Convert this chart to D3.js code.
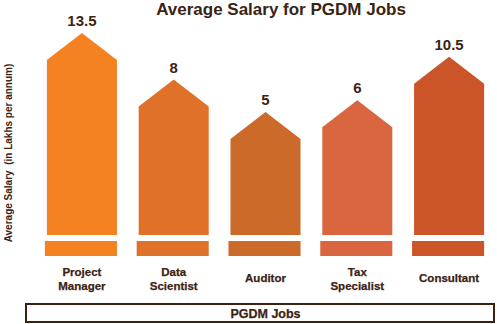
<!DOCTYPE html>
<html>
<head>
<meta charset="utf-8">
<script src="https://cdn.jsdelivr.net/npm/d3@7"></script>
<style>
  html, body { margin: 0; padding: 0; background: #ffffff; }
  svg { display: block; }
  text { font-family: "Liberation Sans", Arial, sans-serif; font-weight: bold; fill: #3b2314; }
</style>
</head>
<body>
<div id="chart"></div>
<script>
const categories = [["Project", "Manager"], ["Data", "Scientist"], ["Auditor"], ["Tax", "Specialist"], ["Consultant"]];
const salaries = [13.5, 8, 5, 6, 10.5];
const valueLabels = ["13.5", "8", "5", "6", "10.5"];
const colors = ["#f58220", "#e07128", "#cc6a2a", "#d9663f", "#cb5529"];
const title = "Average Salary for PGDM Jobs";
const yTitle = "Average Salary  (in Lakhs per annum)";
const xTitle = "PGDM Jobs";

const W = 497, H = 324;
const baseY = 235;
const svg = d3.select("#chart").append("svg").attr("width", W).attr("height", H);

const x = d3.scaleBand().domain(d3.range(categories.length)).range([36, 495])
  .paddingInner(0.237).paddingOuter(0.1185);
const h = d3.scaleSqrt().domain([0, 13.5]).range([0, 202]);
const head = 27;

svg.append("text").attr("x", 281).attr("y", 15).attr("text-anchor", "middle")
  .attr("font-size", 17).text(title);

const g = svg.append("g");
salaries.forEach((v, i) => {
  const x0 = x(i), bw = x.bandwidth(), xc = x0 + bw / 2;
  const apex = baseY - h(v);
  const shoulder = apex + head;
  const path = d3.path();
  path.moveTo(x0, baseY);
  path.lineTo(x0, shoulder);
  path.lineTo(xc, apex);
  path.lineTo(x0 + bw, shoulder);
  path.lineTo(x0 + bw, baseY);
  path.closePath();
  g.append("path").attr("d", path.toString()).attr("fill", colors[i]);
  g.append("rect").attr("x", x0 - 2).attr("y", baseY + 6).attr("width", bw + 2).attr("height", 15)
    .attr("fill", colors[i]);
  g.append("text").attr("x", xc).attr("y", apex - 7).attr("text-anchor", "middle")
    .attr("font-family", "'DejaVu Sans', sans-serif").attr("font-size", 15).text(valueLabels[i]);
  const lines = categories[i];
  const t = g.append("text").attr("text-anchor", "middle").attr("font-size", 11.5)
    .attr("stroke", "#3b2314").attr("stroke-width", 0.25);
  const y0 = lines.length === 1 ? 282 : 276;
  lines.forEach((l, j) => {
    t.append("tspan").attr("x", xc).attr("y", y0 + j * 14).text(l);
  });
});

svg.append("text").attr("transform", "translate(12,153) rotate(-90)").attr("text-anchor", "middle")
  .attr("font-size", 10).style("white-space", "pre").text(yTitle);

svg.append("rect").attr("x", 26).attr("y", 304).attr("width", 468).attr("height", 18)
  .attr("fill", "none").attr("stroke", "#3b2314").attr("stroke-width", 2);
svg.append("text").attr("x", (x.range()[0] + x.range()[1]) / 2).attr("y", 317.5).attr("text-anchor", "middle")
  .attr("font-size", 12.5).attr("stroke", "#3b2314").attr("stroke-width", 0.25).text(xTitle);
</script>
</body>
</html>
